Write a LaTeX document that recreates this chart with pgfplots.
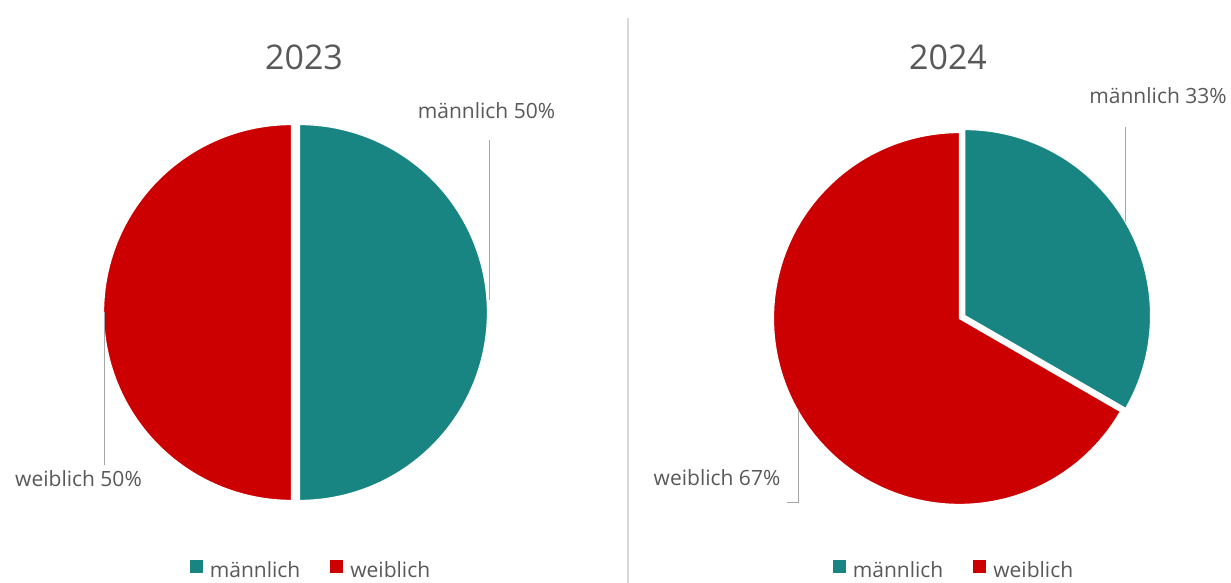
\documentclass[border=0pt]{standalone}
\usepackage{pgfplots}
\pgfplotsset{compat=1.18}
\usepackage{fontspec}
\setmainfont{Open Sans}
\definecolor{mteal}{RGB}{24,133,131}
\definecolor{wred}{RGB}{204,0,0}
\definecolor{tgray}{RGB}{89,89,89}
\definecolor{lgray}{RGB}{166,166,166}
\definecolor{dgray}{RGB}{217,217,217}
% shares in percent
\def\mA{50}   % 2023 maennlich
\def\wA{50}   % 2023 weiblich
\def\mB{33.33} % 2024 maennlich
\def\wB{66.67} % 2024 weiblich
\pgfplotsset{
  piebase/.style={
    x=1pt, y=1pt, xmin=0, xmax=1231, ymin=0, ymax=583,
    hide axis, clip=false, at={(0,0)}, anchor=south west,
    legend columns=2,
    legend image code/.code={\fill[##1,draw=none] (0pt,-3pt) rectangle (13pt,10pt);},
    legend style={draw=none, fill=none, font=\fontsize{21}{24}\selectfont, text=tgray,
      /tikz/every odd column/.append style={column sep=5pt},
      /tikz/every even column/.append style={column sep=28pt}},
  },
  wedge/.style={draw=white, line width=1.3pt, samples=150, variable=\t},
}
\begin{document}
\begin{tikzpicture}
\useasboundingbox (0,0) rectangle (1231pt,583pt);
\fill[white] (0,0) rectangle (1231pt,583pt);
\draw[dgray, line width=2pt] (628pt,0) -- (628pt,565pt);
% ---------- 2023 ----------
\begin{axis}[piebase, legend style={at={(axis cs:311,13)}, anchor=center}]
\addplot[wedge, fill=mteal, domain={90-3.6*\mA}:90] ({299.5+188*cos(t)}, {270.5+188*sin(t)}) -- (axis cs:299.5,270.5) -- cycle;
\addplot[wedge, fill=wred, domain=90:{90+3.6*\wA}] ({291.5+188*cos(t)}, {270.5+188*sin(t)}) -- (axis cs:291.5,270.5) -- cycle;
\legend{männlich, weiblich}
\draw[lgray, line width=1pt] (axis cs:489,443) -- (axis cs:489,283);
\draw[lgray, line width=1pt] (axis cs:104,118) -- (axis cs:104,271);
\node[anchor=base, text=tgray, font=\fontsize{34}{40}\selectfont] at (axis cs:304,513) {2023};
\node[anchor=base, text=tgray, font=\fontsize{21}{24}\selectfont, inner sep=0pt] at (axis cs:486.5,464) {männlich 50\%};
\node[anchor=base, text=tgray, font=\fontsize{21}{24}\selectfont, inner sep=0pt] at (axis cs:78.5,96) {weiblich 50\%};
\end{axis}
% ---------- 2024 ----------
\begin{axis}[piebase, legend style={at={(axis cs:954,13)}, anchor=center}]
\addplot[wedge, fill=mteal, domain={90-3.6*\mB}:90] ({964.6+186*cos(t)}, {267.5+186*sin(t)}) -- (axis cs:964.6,267.5) -- cycle;
\addplot[wedge, fill=wred, domain=90:{90+3.6*\wB}] ({959.4+186*cos(t)}, {264.5+186*sin(t)}) -- (axis cs:959.4,264.5) -- cycle;
\legend{männlich, weiblich}
\draw[lgray, line width=1pt] (axis cs:1125.5,456) -- (axis cs:1125.5,360.5);
\draw[lgray, line width=1pt] (axis cs:798.5,171.5) -- (axis cs:798.5,80) -- (axis cs:787,80);
\node[anchor=base, text=tgray, font=\fontsize{34}{40}\selectfont] at (axis cs:948,513) {2024};
\node[anchor=base, text=tgray, font=\fontsize{21}{24}\selectfont, inner sep=0pt] at (axis cs:1158,479) {männlich 33\%};
\node[anchor=base, text=tgray, font=\fontsize{21}{24}\selectfont, inner sep=0pt] at (axis cs:717,97) {weiblich 67\%};
\end{axis}
\end{tikzpicture}
\end{document}
